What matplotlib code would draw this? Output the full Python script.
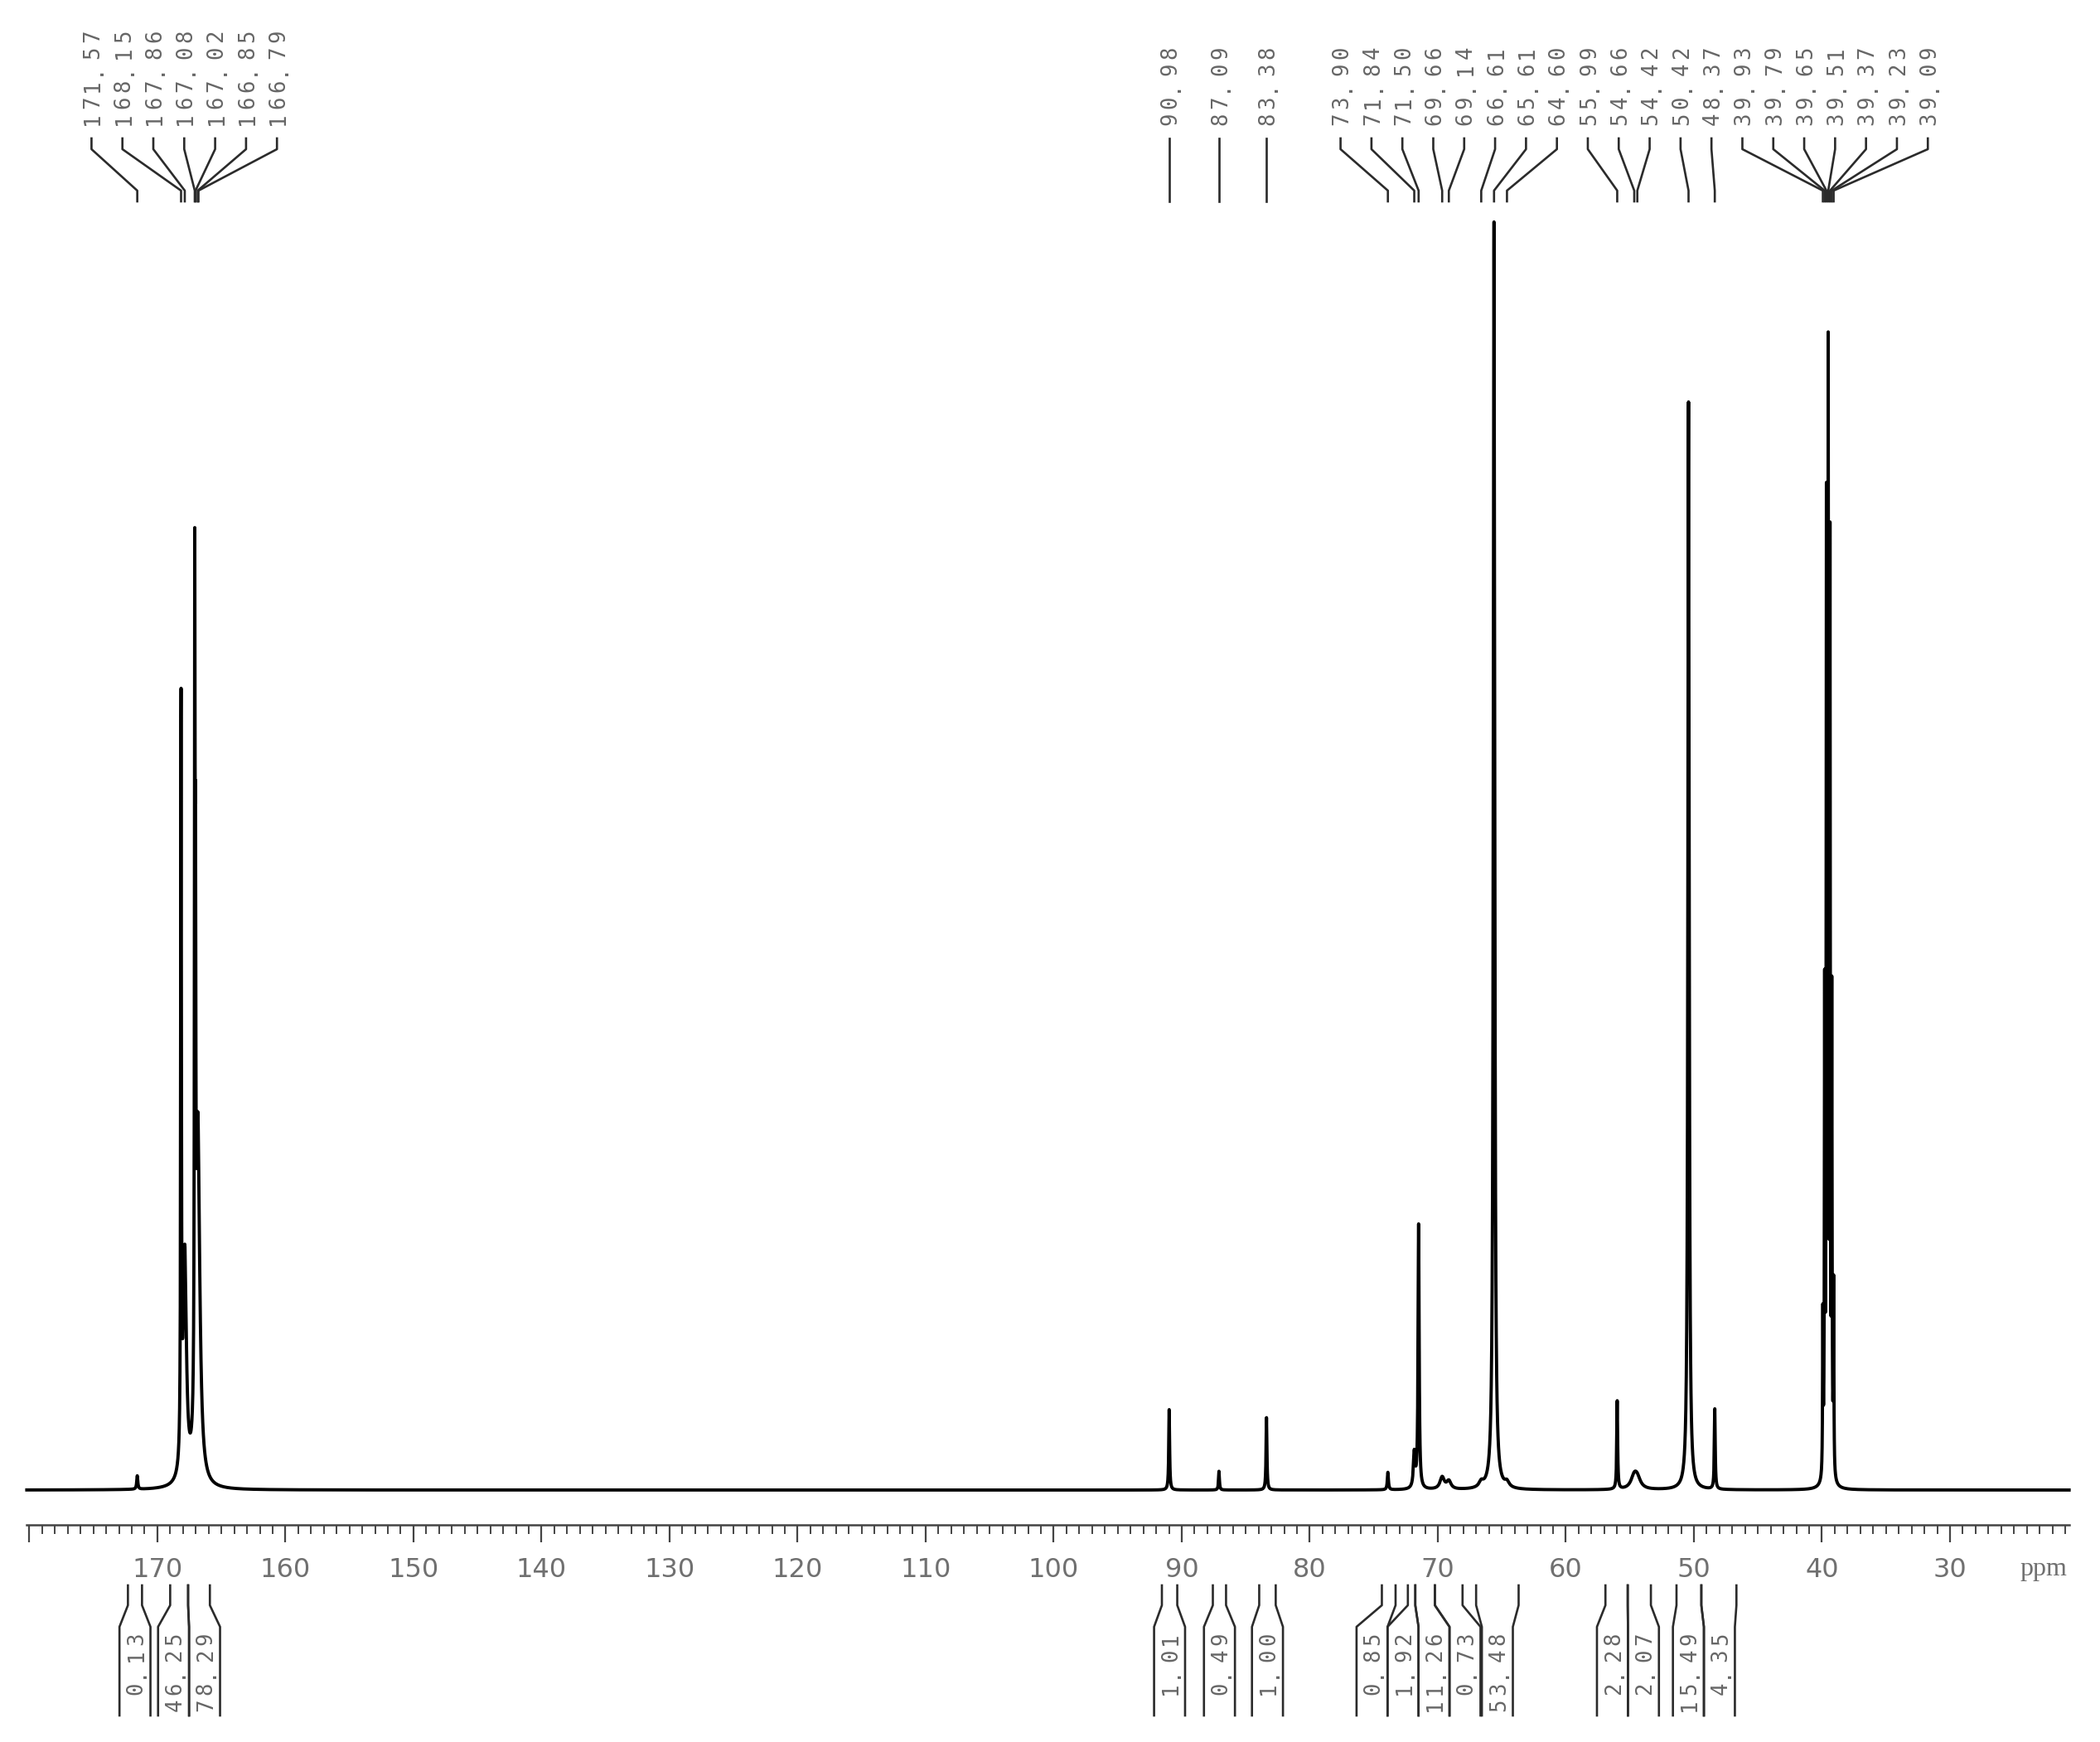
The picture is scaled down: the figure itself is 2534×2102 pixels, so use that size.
import numpy as np
import matplotlib.pyplot as plt
from matplotlib.transforms import blended_transform_factory, offset_copy

# peak list (ppm), apparent heights (arbitrary units) and half widths (ppm)
peak_ppm = [171.57, 168.15, 167.86, 167.08, 167.02, 166.85, 166.79,
            90.98, 87.09, 83.38,
            73.90, 71.84, 71.50, 69.66, 69.14, 66.61, 65.61, 64.60,
            55.99, 54.66, 54.42, 50.42, 48.37,
            39.93, 39.79, 39.65, 39.51, 39.37, 39.23, 39.09]
peak_height = [10, 560, 170, 580, 300, 140, 130,
               60, 14, 54,
               13, 26, 197, 9, 6, 4, 947, 4,
               66, 9, 7, 812, 60,
               118, 355, 712, 820, 682, 350, 140]
peak_hw = [0.05, 0.03, 0.15, 0.03, 0.03, 0.12, 0.2,
           0.04, 0.04, 0.04,
           0.05, 0.08, 0.05, 0.2, 0.2, 0.2, 0.065, 0.2,
           0.04, 0.3, 0.3, 0.06, 0.04,
           0.025, 0.025, 0.025, 0.025, 0.025, 0.025, 0.025]

# integral regions (left ppm, right ppm) and values
int_left = [172.3, 169.0, 167.6, 91.55, 87.57, 83.95, 74.37, 72.34, 71.76, 70.23,
            67.01, 56.91, 55.17, 51.36, 49.42]
int_right = [171.2, 167.6, 165.9, 90.35, 86.54, 82.66, 73.30, 71.76, 70.23, 68.07,
             63.69, 55.17, 53.36, 49.42, 46.68]
int_value = [0.13, 46.25, 78.29, 1.01, 0.49, 1.00, 0.85, 1.92, 11.26, 0.73,
             53.48, 2.28, 2.07, 15.49, 4.35]

major_ticks = np.arange(30, 181, 10)
minor_ticks = np.arange(21, 181, 1)

XMAX, XMIN = 180.2, 20.7
W, H = 2534, 2102
LBL_PITCH = 2.414   # ppm between neighbouring labels
INT_PITCH = 2.42
CHAR_PITCH = 20     # px between characters of the vertical labels
GREY = '#666666'
LINE = '#2b2b2b'


def spread(centers, pitch):
    clusters = [[c, 1] for c in centers]
    changed = True
    while changed:
        changed = False
        out = []
        for c in clusters:
            if out:
                m0, n0 = out[-1]
                last = m0 - (n0 - 1) / 2 * pitch
                first = c[0] + (c[1] - 1) / 2 * pitch
                if last - first < pitch:
                    out[-1] = [(m0 * n0 + c[0] * c[1]) / (n0 + c[1]), n0 + c[1]]
                    changed = True
                    continue
            out.append(c)
        clusters = out
    pos = []
    for m, n in clusters:
        pos += [m + ((n - 1) / 2 - k) * pitch for k in range(n)]
    return pos


# spectrum from the peak list
ppm = np.arange(XMIN, XMAX, 0.004)
spec = np.zeros_like(ppm)
for p, h, g in zip(peak_ppm, peak_height, peak_hw):
    spec += h / (1 + ((ppm - p) / g) ** 2)

fig = plt.figure(figsize=(W / 100, H / 100), dpi=100)
ax = fig.add_axes([32.3 / W, 1 - 1840 / H, (2496.7 - 32.3) / W, (1840 - 267) / H])
ov = fig.add_axes([0, 0, 1, 1], zorder=-1)
ov.patch.set_alpha(0)

ax.plot(ppm, spec, color='black', lw=2.8, clip_on=False)
ax.set_xlim(XMAX, XMIN)
ax.set_ylim(-26, 947)
ax.patch.set_alpha(0)
for s in ['top', 'left', 'right']:
    ax.spines[s].set_visible(False)
ax.spines['bottom'].set_linewidth(1.8)
ax.spines['bottom'].set_color('#444444')
ax.set_yticks([])
ax.set_xticks(major_ticks)
ax.set_xticklabels([str(t) if t < 180 else '' for t in major_ticks])
ax.set_xticks(minor_ticks, minor=True)
ax.tick_params(axis='x', which='major', length=15, width=1.6, color='#444444',
               labelsize=23, labelcolor='#707070', pad=13)
ax.tick_params(axis='x', which='minor', length=8, width=1.4, color='#444444')

trans = blended_transform_factory(ax.transData, ov.transData)
ctrans = offset_copy(trans, fig=fig, x=9, y=0, units='dots')


def vtext(x, y_center_list, s):
    for ch, yc in zip(s, y_center_list):
        ov.text(x, yc, ch, transform=ctrans, rotation=90, rotation_mode='anchor',
                ha='center', va='baseline', fontsize=18.5, family='DejaVu Sans Mono',
                color=GREY)


# peak labels
label_x = spread(peak_ppm, LBL_PITCH)
for p, lx in zip(peak_ppm, label_x):
    ov.plot([lx, lx, p, p], [167, 180, 230, 243], transform=trans, color=LINE, lw=1.9,
            clip_on=False)
    s = f'{p:.2f}'
    vtext(lx, [153 - (i + 0.5) * CHAR_PITCH for i in range(len(s))], s)

# integrals
centers = [(a + b) / 2 for a, b in zip(int_left, int_right)]
cell_x = spread(centers, INT_PITCH)
for a, b, cx, v in zip(int_left, int_right, cell_x, int_value):
    ca, cb = cx + INT_PITCH / 2, cx - INT_PITCH / 2
    ov.plot([a, a, ca, ca], [1913, 1937, 1963, 2070], transform=trans, color=LINE, lw=1.9,
            clip_on=False)
    ov.plot([b, b, cb, cb], [1913, 1937, 1963, 2070], transform=trans, color=LINE, lw=1.9,
            clip_on=False)
    s = f'{v:.2f}'
    n = len(s)
    vtext(cx, [1967 + (n - 1 - i + 0.5) * CHAR_PITCH for i in range(n)], s)

ov.text(2466, 1893, 'ppm', ha='center', va='center', fontsize=23, family='Liberation Serif',
        color='#707070')

ov.set_xlim(0, W)
ov.set_ylim(H, 0)
ov.axis('off')

fig.savefig('out.png', dpi=100)
